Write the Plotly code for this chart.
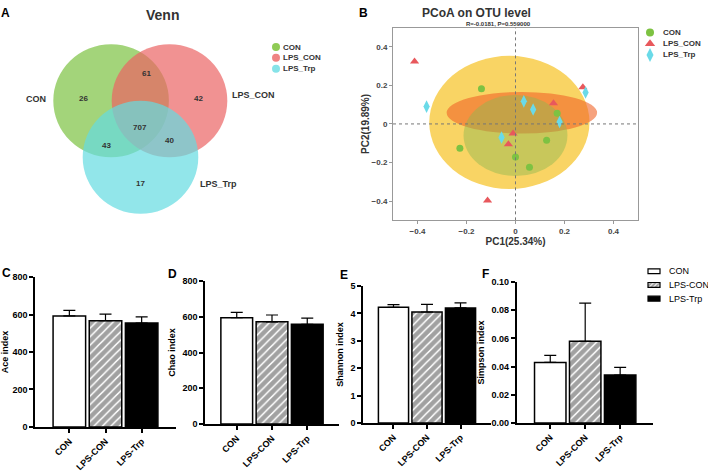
import plotly.graph_objects as go

W, H = 708, 474
def px(x): return x / W
def py(y): return 1 - y / H

FONT = "Liberation Sans, Arial, sans-serif"

# ---------------- data ----------------
# Venn
venn_sets = ["CON", "LPS_CON", "LPS_Trp"]
venn_colors = ["rgb(124,194,66)", "rgb(235,100,100)", "rgb(100,220,225)"]
venn_legend_colors = ["#8FCB55", "#EF8383", "#86E3E8"]
# regions: CON only, CON&LPS_CON, LPS_CON only, all three, CON&LPS_Trp, LPS_CON&LPS_Trp, LPS_Trp only
venn_counts = [26, 61, 42, 707, 43, 40, 17]

# PCoA
pc_groups = ["CON", "LPS_CON", "LPS_Trp"]
con_pc1 = [-0.139, -0.227, 0.0, 0.057, 0.127, 0.17]
con_pc2 = [0.183, -0.126, -0.171, -0.224, -0.085, 0.056]
lpscon_pc1 = [-0.412, -0.114, -0.01, -0.029, 0.155, 0.275]
lpscon_pc2 = [0.324, -0.397, -0.049, -0.105, 0.107, 0.19]
lpstrp_pc1 = [-0.363, 0.034, 0.072, 0.18, 0.286, -0.057]
lpstrp_pc2 = [0.09, 0.117, 0.075, 0.01, 0.163, -0.07]
# confidence ellipses: (center x, center y, semi-axis x, semi-axis y)
ellipse_yellow = (-0.025, 0.008, 0.327, 0.345)
ellipse_green = (0.0, -0.06, 0.212, 0.21)
ellipse_orange = (0.026, 0.058, 0.307, 0.108)

# Alpha diversity
groups = ["CON", "LPS-CON", "LPS-Trp"]
ace_mean = [593, 567, 555]
ace_sd = [30, 35, 33]
chao_mean = [595, 572, 558]
chao_sd = [30, 38, 35]
shannon_mean = [4.22, 4.05, 4.20]
shannon_sd = [0.10, 0.28, 0.18]
simpson_mean = [0.043, 0.058, 0.034]
simpson_sd = [0.005, 0.027, 0.0055]

fig = go.Figure()
shapes = []
annotations = []

# ---------------- Venn (axis x / y, pixel-like units) ----------------
venn_circles = [(111.1, 97.8, 57.8), (169.5, 97.8, 57.8), (140.5, 155.5, 57.8)]
for (cx, cy, r), col in zip(venn_circles, venn_colors):
    shapes.append(dict(type="circle", xref="x", yref="y", x0=cx - r, x1=cx + r,
                       y0=cy - r, y1=cy + r, fillcolor=col, opacity=0.7,
                       line=dict(width=0), layer="below"))
venn_pos = [(83, 96), (146, 70), (198, 96), (140, 125), (106, 144), (169, 138), (140, 182)]
for (x, y), c in zip(venn_pos, venn_counts):
    annotations.append(dict(x=x, y=y, xref="x", yref="y", text=str(c), showarrow=False,
                            font=dict(size=8, family=FONT, color="#333", weight="bold")))
for (x, y), t in zip([(36, 96), (253, 92), (218, 183)], venn_sets):
    annotations.append(dict(x=x, y=y, xref="x", yref="y", text=t, showarrow=False,
                            font=dict(size=9, family=FONT, color="#333", weight="bold")))

# ---------------- PCoA (x2 / y2) ----------------
pc_series = [(con_pc1, con_pc2, "#7DC242", "circle", 7),
             (lpscon_pc1, lpscon_pc2, "#E8585C", "triangle-up", 8),
             (lpstrp_pc1, lpstrp_pc2, "#6ADAE8", "diamond-tall", 9)]
for (xs, ys, col, sym, sz), name in zip(pc_series, pc_groups):
    fig.add_trace(go.Scatter(x=xs, y=ys, mode="markers", name=name, showlegend=False,
                             marker=dict(color=col, symbol=sym, size=sz, line=dict(width=0)),
                             xaxis="x2", yaxis="y2"))
for (cx, cy, ax, ay), col, op in [(ellipse_yellow, "rgb(249,212,100)", 1.0),
                                  (ellipse_orange, "rgb(240,100,40)", 0.6),
                                  (ellipse_green, "rgb(140,185,80)", 0.45)]:
    shapes.append(dict(type="circle", xref="x2", yref="y2", x0=cx - ax, x1=cx + ax,
                       y0=cy - ay, y1=cy + ay, fillcolor=col, opacity=op,
                       line=dict(width=0), layer="below"))
shapes.append(dict(type="line", xref="x2", yref="y2", x0=0, x1=0, y0=-0.5, y1=0.5,
                   line=dict(color="#777", width=1, dash="dot")))
shapes.append(dict(type="line", xref="x2", yref="y2", x0=-0.5, x1=0.5, y0=0, y1=0,
                   line=dict(color="#777", width=1, dash="dot")))

# ---------------- bars ----------------
panels = [
    ("3", ace_mean, ace_sd, "Ace index"),
    ("4", chao_mean, chao_sd, "Chao index"),
    ("5", shannon_mean, shannon_sd, "Shannon index"),
    ("6", simpson_mean, simpson_sd, "Simpson index"),
]
fills = ["white", "white", "black"]
patterns = ["", "/", ""]
for p, (k, mean, sd, title) in enumerate(panels):
    fig.add_trace(go.Bar(
        x=groups, y=mean, width=0.9, showlegend=False,
        marker=dict(color=fills, line=dict(color="black", width=1.5),
                    pattern=dict(shape=patterns, fgcolor="black", bgcolor=fills,
                                 size=6, solidity=0.75)),
        error_y=dict(type="data", array=sd, arrayminus=[0] * len(sd), color="black",
                     thickness=1.2, width=6),
        xaxis="x" + k, yaxis="y" + k))

# ---------------- legends (hidden overlay axis x7/y7 in pixel units) ----------------
# Venn legend
fig.add_trace(go.Scatter(x=[276] * 3, y=[43 + 11 * i for i in range(3)], mode="markers",
                         marker=dict(color=venn_legend_colors, size=8, symbol="circle"),
                         xaxis="x7", yaxis="y7", showlegend=False, hoverinfo="skip"))
for i, t in enumerate(venn_sets):
    annotations.append(dict(x=280.5, y=43 + 11 * i, xref="x7", yref="y7", text=t, showarrow=False,
                            xanchor="left", yanchor="middle",
                            font=dict(size=8, family=FONT, color="#333", weight="bold")))
# PCoA legend
for i, ((xs, ys, col, sym, sz), name) in enumerate(zip(pc_series, pc_groups)):
    fig.add_trace(go.Scatter(x=[650], y=[28 + 11.5 * i], mode="markers",
                             marker=dict(color=col, symbol=sym, size=sz + 1),
                             xaxis="x7", yaxis="y7", showlegend=False, hoverinfo="skip"))
    annotations.append(dict(x=661, y=28 + 11.5 * i, xref="x7", yref="y7", text=name,
                            showarrow=False, xanchor="left", yanchor="middle",
                            font=dict(size=8, family=FONT, color="#333", weight="bold")))
# bar legend
fig.add_trace(go.Bar(y=[272 + 14 * i for i in range(3)], x=[12] * 3, base=[648] * 3, width=[5] * 3,
                     orientation="h", showlegend=False, hoverinfo="skip",
                     marker=dict(color=fills, line=dict(color="black", width=1.2),
                                 pattern=dict(shape=patterns, fgcolor="black", bgcolor=fills,
                                              size=3, solidity=0.7)),
                     xaxis="x7", yaxis="y7"))
for i, g in enumerate(groups):
    annotations.append(dict(x=667, y=272 + 14 * i, xref="x7", yref="y7", text=g, showarrow=False,
                            xanchor="left", yanchor="middle",
                            font=dict(size=9, family=FONT, color="black")))

tickfont = dict(size=9, family=FONT, color="black", weight="bold")
bar_x_dom = [(35, 176), (205, 339), (363, 491), (516.7, 653)]
bar_y_dom = [(278, 431), (282, 428), (287, 427), (283, 427)]
bar_x_rng = [(-0.95, 2.95), (-0.9, 2.9), (-0.91, 2.91), (-0.96, 2.94)]
bar_y_rng = [(0, 800, 200, None), (0, 800, 200, None), (0, 5, 1, None), (0, 0.1, 0.02, ".2f")]

layout_axes = {}
layout_axes["xaxis"] = dict(domain=[0, px(347)], range=[0, 347], visible=False)
layout_axes["yaxis"] = dict(domain=[py(240), 1], range=[240, 0], visible=False)
layout_axes["xaxis7"] = dict(domain=[0, 1], range=[0, W], visible=False, anchor="y7")
layout_axes["yaxis7"] = dict(domain=[0, 1], range=[H, 0], visible=False, anchor="x7")
layout_axes["xaxis2"] = dict(domain=[px(393), px(638)], range=[-0.5, 0.5], dtick=0.2, tick0=0,
                             showline=True, mirror=True, linecolor="#999", linewidth=1,
                             ticks="outside", ticklen=3, tickcolor="#999", showgrid=False,
                             zeroline=False, tickformat="~g",
                             tickfont=dict(size=8, family=FONT, color="#444", weight="bold"),
                             title=dict(text="PC1(25.34%)", standoff=0,
                                        font=dict(size=10, family=FONT, color="#333", weight="bold")),
                             anchor="y2")
layout_axes["yaxis2"] = dict(domain=[py(220), py(23)], range=[-0.5, 0.5], dtick=0.2, tick0=0,
                             showline=True, mirror=True, linecolor="#999", linewidth=1,
                             ticks="outside", ticklen=3, tickcolor="#999", showgrid=False,
                             zeroline=False, tickformat="~g",
                             tickfont=dict(size=8, family=FONT, color="#444", weight="bold"),
                             title=dict(text="PC2(19.89%)", standoff=0,
                                        font=dict(size=10, family=FONT, color="#333", weight="bold")),
                             anchor="x2")
for j, (k, mean, sd, title) in enumerate(panels):
    x0, x1 = bar_x_dom[j]
    y0, y1 = bar_y_dom[j]
    lo, hi, dt, fmt = bar_y_rng[j]
    layout_axes["xaxis" + k] = dict(domain=[px(x0), px(x1)], range=list(bar_x_rng[j]),
                                    anchor="y" + k, showline=True, linecolor="black", linewidth=1.5,
                                    ticks="outside", ticklen=4, tickwidth=1.5, tickcolor="black",
                                    tickangle=-45, tickfont=tickfont, showgrid=False, zeroline=False)
    ya = dict(domain=[py(y1), py(y0)], range=[lo, hi], dtick=dt, tick0=0, anchor="x" + k,
              showline=True, linecolor="black", linewidth=1.5, ticks="outside", ticklen=4,
              tickwidth=1.5, tickcolor="black", tickfont=tickfont, showgrid=False, zeroline=False,
              title=dict(text=title, standoff=5,
                         font=dict(size=9, family=FONT, color="black", weight="bold")))
    if fmt:
        ya["tickformat"] = fmt
    layout_axes["yaxis" + k] = ya

# titles / panel letters
for x, y, t in [(5, 8, "A"), (363, 8, "B"), (6, 274, "C"), (172, 275, "D"),
                (344, 276, "E"), (486, 275, "F")]:
    annotations.append(dict(x=px(x), y=py(y), xref="paper", yref="paper", text=t, showarrow=False,
                            xanchor="center", yanchor="middle",
                            font=dict(size=12, family=FONT, color="black", weight="bold")))
annotations.append(dict(x=px(144), y=py(10), xref="paper", yref="paper", text="Venn", showarrow=False,
                        yanchor="middle",
                        font=dict(size=14, family=FONT, color="#333", weight="bold")))
annotations.append(dict(x=px(533), y=py(8), xref="paper", yref="paper", text="PCoA on OTU level",
                        showarrow=False, yanchor="middle",
                        font=dict(size=12, family=FONT, color="#333", weight="bold")))
annotations.append(dict(x=px(533), y=py(19), xref="paper", yref="paper",
                        text="R=-0.0181, P=0.559000", showarrow=False, yanchor="middle",
                        font=dict(size=6, family=FONT, color="#333", weight="bold")))

fig.update_layout(
    width=W, height=H, margin=dict(l=0, r=0, t=0, b=0), autosize=False,
    paper_bgcolor="white", plot_bgcolor="rgba(0,0,0,0)",
    barmode="overlay", shapes=shapes, annotations=annotations,
    font=dict(family=FONT), showlegend=False,
    **layout_axes,
)

fig.write_html("out.html", config={"displayModeBar": False},
               post_script="document.body.style.margin='0';document.body.style.padding='0';"
                           "document.body.style.overflow='hidden';")
